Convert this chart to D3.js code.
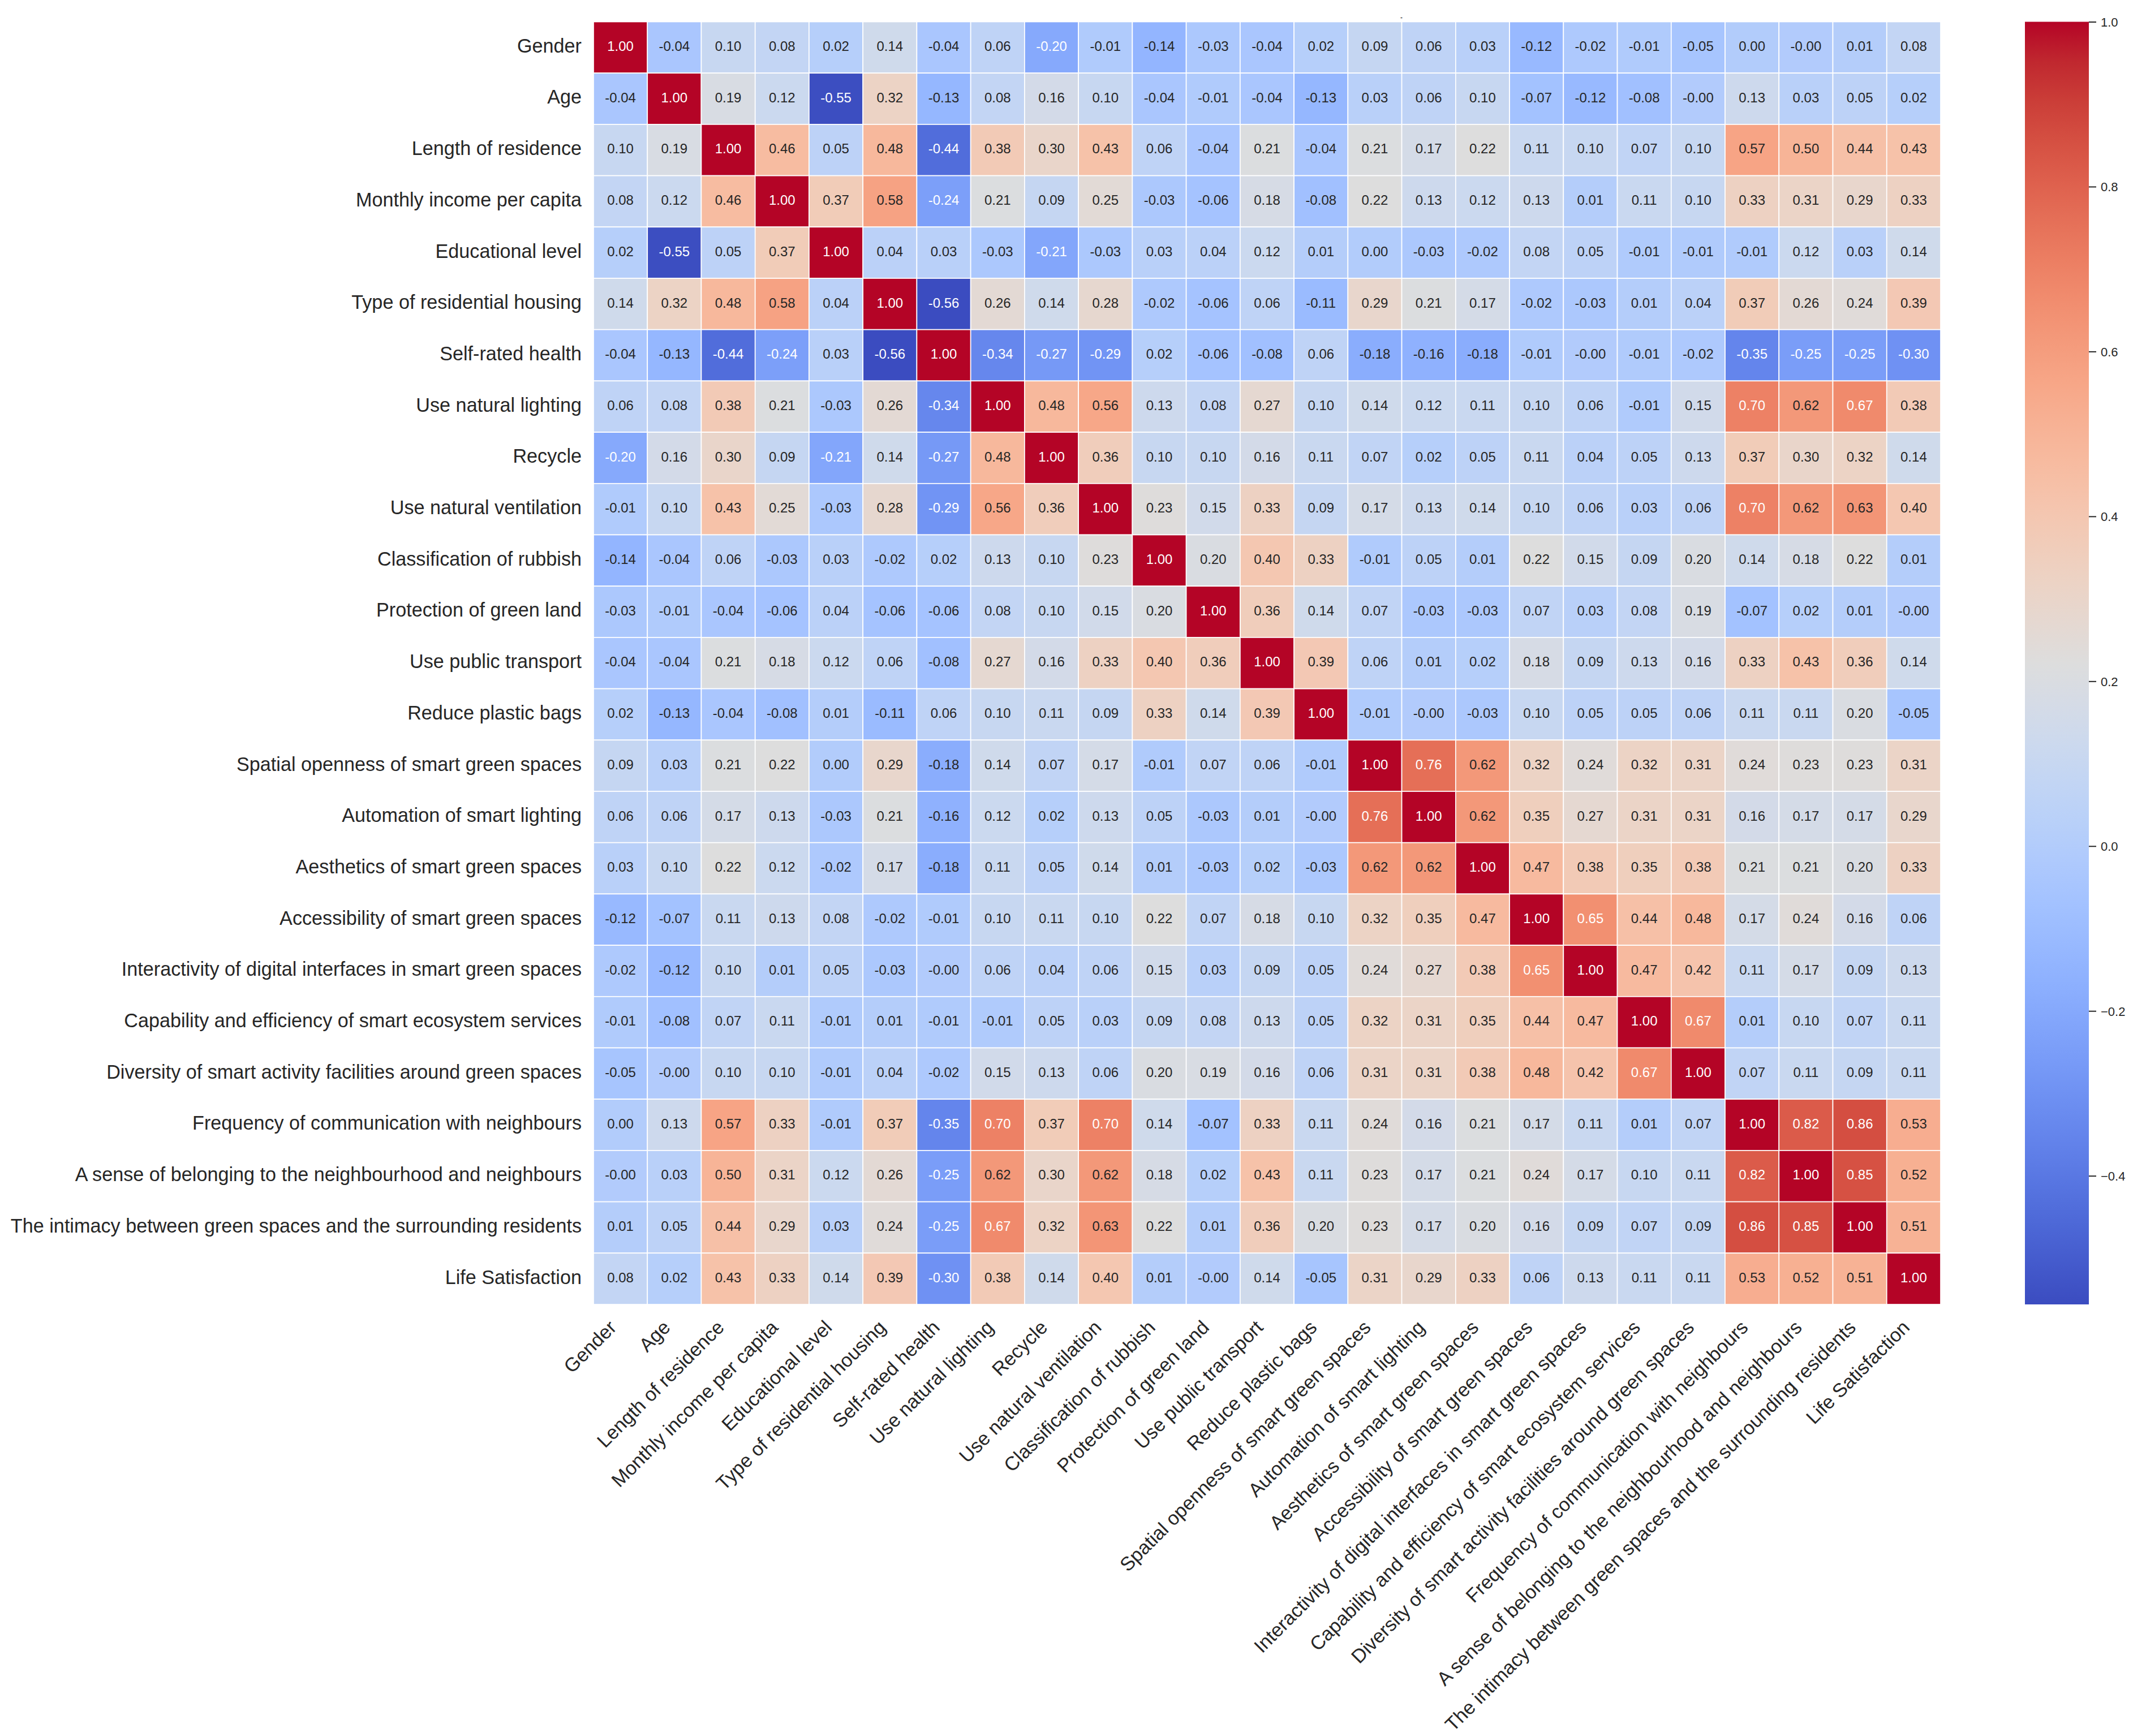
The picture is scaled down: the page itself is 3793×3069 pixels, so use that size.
<!DOCTYPE html>
<html>
<head>
<meta charset="utf-8">
<script src="https://cdn.jsdelivr.net/npm/d3@7"></script>
<style>
  html, body { margin: 0; padding: 0; background: #ffffff; }
  svg { display: block; }
  text { font-family: "Liberation Sans", Arial, sans-serif; }
</style>
</head>
<body>
<svg id="chart" width="3793" height="3069"></svg>
<script>
// ---------------- DATA ----------------
const categories = [
  "Gender",
  "Age",
  "Length of residence",
  "Monthly income per capita",
  "Educational level",
  "Type of residential housing",
  "Self-rated health",
  "Use natural lighting",
  "Recycle",
  "Use natural ventilation",
  "Classification of rubbish",
  "Protection of green land",
  "Use public transport",
  "Reduce plastic bags",
  "Spatial openness of smart green spaces",
  "Automation of smart lighting",
  "Aesthetics of smart green spaces",
  "Accessibility of smart green spaces",
  "Interactivity of digital interfaces in smart green spaces",
  "Capability and efficiency of smart ecosystem services",
  "Diversity of smart activity facilities around green spaces",
  "Frequency of communication with neighbours",
  "A sense of belonging to the neighbourhood and neighbours",
  "The intimacy between green spaces and the surrounding residents",
  "Life Satisfaction"
];

// correlation matrix, one row per category (same order as columns)
const corrRows = [
  [1.00,-0.04,0.10,0.08,0.02,0.14,-0.04,0.06,-0.20,-0.01,-0.14,-0.03,-0.04,0.02,0.09,0.06,0.03,-0.12,-0.02,-0.01,-0.05,0.00,-0.004,0.01,0.08],
  [-0.04,1.00,0.19,0.12,-0.55,0.32,-0.13,0.08,0.16,0.10,-0.04,-0.01,-0.04,-0.13,0.03,0.06,0.10,-0.07,-0.12,-0.08,-0.004,0.13,0.03,0.05,0.02],
  [0.10,0.19,1.00,0.46,0.05,0.48,-0.44,0.38,0.30,0.43,0.06,-0.04,0.21,-0.04,0.21,0.17,0.22,0.11,0.10,0.07,0.10,0.57,0.50,0.44,0.43],
  [0.08,0.12,0.46,1.00,0.37,0.58,-0.24,0.21,0.09,0.25,-0.03,-0.06,0.18,-0.08,0.22,0.13,0.12,0.13,0.01,0.11,0.10,0.33,0.31,0.29,0.33],
  [0.02,-0.55,0.05,0.37,1.00,0.04,0.03,-0.03,-0.21,-0.03,0.03,0.04,0.12,0.01,0.00,-0.03,-0.02,0.08,0.05,-0.01,-0.01,-0.01,0.12,0.03,0.14],
  [0.14,0.32,0.48,0.58,0.04,1.00,-0.556,0.26,0.14,0.28,-0.02,-0.06,0.06,-0.11,0.29,0.21,0.17,-0.02,-0.03,0.01,0.04,0.37,0.26,0.24,0.39],
  [-0.04,-0.13,-0.44,-0.24,0.03,-0.556,1.00,-0.34,-0.27,-0.29,0.02,-0.06,-0.08,0.06,-0.18,-0.16,-0.18,-0.01,-0.004,-0.01,-0.02,-0.35,-0.25,-0.25,-0.30],
  [0.06,0.08,0.38,0.21,-0.03,0.26,-0.34,1.00,0.48,0.56,0.13,0.08,0.27,0.10,0.14,0.12,0.11,0.10,0.06,-0.01,0.15,0.70,0.62,0.67,0.38],
  [-0.20,0.16,0.30,0.09,-0.21,0.14,-0.27,0.48,1.00,0.36,0.10,0.10,0.16,0.11,0.07,0.02,0.05,0.11,0.04,0.05,0.13,0.37,0.30,0.32,0.14],
  [-0.01,0.10,0.43,0.25,-0.03,0.28,-0.29,0.56,0.36,1.00,0.23,0.15,0.33,0.09,0.17,0.13,0.14,0.10,0.06,0.03,0.06,0.70,0.62,0.63,0.40],
  [-0.14,-0.04,0.06,-0.03,0.03,-0.02,0.02,0.13,0.10,0.23,1.00,0.20,0.40,0.33,-0.01,0.05,0.01,0.22,0.15,0.09,0.20,0.14,0.18,0.22,0.01],
  [-0.03,-0.01,-0.04,-0.06,0.04,-0.06,-0.06,0.08,0.10,0.15,0.20,1.00,0.36,0.14,0.07,-0.03,-0.03,0.07,0.03,0.08,0.19,-0.07,0.02,0.01,-0.004],
  [-0.04,-0.04,0.21,0.18,0.12,0.06,-0.08,0.27,0.16,0.33,0.40,0.36,1.00,0.39,0.06,0.01,0.02,0.18,0.09,0.13,0.16,0.33,0.43,0.36,0.14],
  [0.02,-0.13,-0.04,-0.08,0.01,-0.11,0.06,0.10,0.11,0.09,0.33,0.14,0.39,1.00,-0.01,-0.004,-0.03,0.10,0.05,0.05,0.06,0.11,0.11,0.20,-0.05],
  [0.09,0.03,0.21,0.22,0.00,0.29,-0.18,0.14,0.07,0.17,-0.01,0.07,0.06,-0.01,1.00,0.76,0.62,0.32,0.24,0.32,0.31,0.24,0.23,0.23,0.31],
  [0.06,0.06,0.17,0.13,-0.03,0.21,-0.16,0.12,0.02,0.13,0.05,-0.03,0.01,-0.004,0.76,1.00,0.62,0.35,0.27,0.31,0.31,0.16,0.17,0.17,0.29],
  [0.03,0.10,0.22,0.12,-0.02,0.17,-0.18,0.11,0.05,0.14,0.01,-0.03,0.02,-0.03,0.62,0.62,1.00,0.47,0.38,0.35,0.38,0.21,0.21,0.20,0.33],
  [-0.12,-0.07,0.11,0.13,0.08,-0.02,-0.01,0.10,0.11,0.10,0.22,0.07,0.18,0.10,0.32,0.35,0.47,1.00,0.65,0.44,0.48,0.17,0.24,0.16,0.06],
  [-0.02,-0.12,0.10,0.01,0.05,-0.03,-0.004,0.06,0.04,0.06,0.15,0.03,0.09,0.05,0.24,0.27,0.38,0.65,1.00,0.47,0.42,0.11,0.17,0.09,0.13],
  [-0.01,-0.08,0.07,0.11,-0.01,0.01,-0.01,-0.01,0.05,0.03,0.09,0.08,0.13,0.05,0.32,0.31,0.35,0.44,0.47,1.00,0.67,0.01,0.10,0.07,0.11],
  [-0.05,-0.004,0.10,0.10,-0.01,0.04,-0.02,0.15,0.13,0.06,0.20,0.19,0.16,0.06,0.31,0.31,0.38,0.48,0.42,0.67,1.00,0.07,0.11,0.09,0.11],
  [0.00,0.13,0.57,0.33,-0.01,0.37,-0.35,0.70,0.37,0.70,0.14,-0.07,0.33,0.11,0.24,0.16,0.21,0.17,0.11,0.01,0.07,1.00,0.82,0.86,0.53],
  [-0.004,0.03,0.50,0.31,0.12,0.26,-0.25,0.62,0.30,0.62,0.18,0.02,0.43,0.11,0.23,0.17,0.21,0.24,0.17,0.10,0.11,0.82,1.00,0.85,0.52],
  [0.01,0.05,0.44,0.29,0.03,0.24,-0.25,0.67,0.32,0.63,0.22,0.01,0.36,0.20,0.23,0.17,0.20,0.16,0.09,0.07,0.09,0.86,0.85,1.00,0.51],
  [0.08,0.02,0.43,0.33,0.14,0.39,-0.30,0.38,0.14,0.40,0.01,-0.004,0.14,-0.05,0.31,0.29,0.33,0.06,0.13,0.11,0.11,0.53,0.52,0.51,1.00]
];

const colorbarTicks = [-0.4, -0.2, 0.0, 0.2, 0.4, 0.6, 0.8, 1.0];

// "coolwarm" colormap control colours (Moreland), evenly spaced from 0 to 1
const coolwarmStops = [
  "#3b4cc0","#445acc","#4d68d7","#5775e1","#6282ea","#6c8ef1","#779af7","#82a5fb",
  "#8db0fe","#98b9ff","#a3c2ff","#aec9fd","#b8d0f9","#c2d5f4","#ccd9ee","#d5dbe6",
  "#dddddd","#e5d8d1","#ecd3c5","#f1ccb9","#f5c4ad","#f7bba0","#f7b194","#f7a687",
  "#f49a7b","#f18d6f","#ec7f63","#e57058","#de604d","#d55042","#cb3e38","#c0282f",
  "#b40426"
];

// ---------------- LAYOUT ----------------
const W = 3793, H = 3069;
const plot = { left: 1049, right: 3430, top: 38.5, bottom: 2306 };
const cbar = { left: 3579, right: 3692 };
const labelFont = 34.2, annotFont = 24, cbarFont = 22;
const textDark = "#262626";

const svg = d3.select("#chart");
svg.append("rect").attr("width", W).attr("height", H).attr("fill", "#ffffff");

const cells = [];
corrRows.forEach((row, i) => row.forEach((v, j) => cells.push({ r: categories[i], c: categories[j], v })));

const vmin = d3.min(cells, d => d.v);
const vmax = d3.max(cells, d => d.v);

const x = d3.scaleBand().domain(categories).range([plot.left, plot.right]).paddingInner(0).paddingOuter(0);
const y = d3.scaleBand().domain(categories).range([plot.top, plot.bottom]).paddingInner(0).paddingOuter(0);

const cmap = d3.scaleLinear()
  .domain(coolwarmStops.map((_, i) => i / (coolwarmStops.length - 1)))
  .range(coolwarmStops)
  .interpolate(d3.interpolateRgb)
  .clamp(true);
const norm = d3.scaleLinear().domain([vmin, vmax]).range([0, 1]).clamp(true);
const colorOf = v => cmap(norm(v));

function relLum(col) {
  const c = d3.rgb(col);
  const lin = u => { u = u / 255; return u <= 0.03928 ? u / 12.92 : Math.pow((u + 0.055) / 1.055, 2.4); };
  return 0.2126 * lin(c.r) + 0.7152 * lin(c.g) + 0.0722 * lin(c.b);
}

// cells
svg.append("g").selectAll("rect").data(cells).join("rect")
  .attr("x", d => x(d.c))
  .attr("y", d => y(d.r))
  .attr("width", x.bandwidth())
  .attr("height", y.bandwidth())
  .attr("fill", d => colorOf(d.v))
  .attr("stroke", "#ffffff")
  .attr("stroke-width", 1.7);

// annotations
svg.append("g").selectAll("text").data(cells).join("text")
  .attr("x", d => x(d.c) + x.bandwidth() / 2)
  .attr("y", d => y(d.r) + y.bandwidth() / 2 + 0.26 * annotFont)
  .attr("text-anchor", "middle")
  .attr("font-size", annotFont)
  .attr("fill", d => relLum(colorOf(d.v)) > 0.408 ? textDark : "#ffffff")
  .text(d => d.v.toFixed(2));

// y labels
svg.append("g").selectAll("text").data(categories).join("text")
  .attr("x", plot.left - 21)
  .attr("y", d => y(d) + y.bandwidth() / 2 + 0.26 * labelFont)
  .attr("text-anchor", "end")
  .attr("font-size", labelFont)
  .attr("fill", textDark)
  .text(d => d);

// x labels (rotated 45deg, right-aligned, top of rotated box below axis)
const s45 = Math.SQRT1_2;
const asc = 0.905 * labelFont, desc = 0.212 * labelFont;
svg.append("g").selectAll("text").data(categories).join("text")
  .attr("transform", d => {
    const tx = x(d) + x.bandwidth() / 2 - desc * s45;
    const ty = plot.bottom + 21 + asc * s45;
    return `translate(${tx},${ty}) rotate(-45)`;
  })
  .attr("text-anchor", "end")
  .attr("font-size", labelFont)
  .attr("fill", textDark)
  .text(d => d);

// tiny stray mark at top of the figure
svg.append("text")
  .attr("x", 2477).attr("y", 35)
  .attr("text-anchor", "middle")
  .attr("font-size", 12)
  .attr("fill", "#000000")
  .text("-");

// colorbar
const defs = svg.append("defs");
const grad = defs.append("linearGradient")
  .attr("id", "cbgrad")
  .attr("x1", 0).attr("y1", 1).attr("x2", 0).attr("y2", 0);
grad.selectAll("stop").data(coolwarmStops).join("stop")
  .attr("offset", (d, i) => i / (coolwarmStops.length - 1))
  .attr("stop-color", d => d);

const cy = d3.scaleLinear().domain([vmin, vmax]).range([plot.bottom, plot.top]);
svg.append("rect")
  .attr("x", cbar.left)
  .attr("y", cy(vmax))
  .attr("width", cbar.right - cbar.left)
  .attr("height", cy(vmin) - cy(vmax))
  .attr("fill", "url(#cbgrad)");

const cbAxis = d3.axisRight(cy)
  .tickValues(colorbarTicks)
  .tickFormat(d3.format(".1f"))
  .tickSize(13)
  .tickPadding(8);
const cbG = svg.append("g").attr("transform", `translate(${cbar.right},0)`).call(cbAxis);
cbG.select(".domain").remove();
cbG.selectAll(".tick line").attr("stroke", textDark).attr("stroke-width", 2);
cbG.selectAll(".tick text")
  .attr("font-size", cbarFont)
  .attr("font-family", "'Liberation Sans', Arial, sans-serif")
  .attr("fill", textDark)
  .attr("dy", "0.36em");
</script>
</body>
</html>
